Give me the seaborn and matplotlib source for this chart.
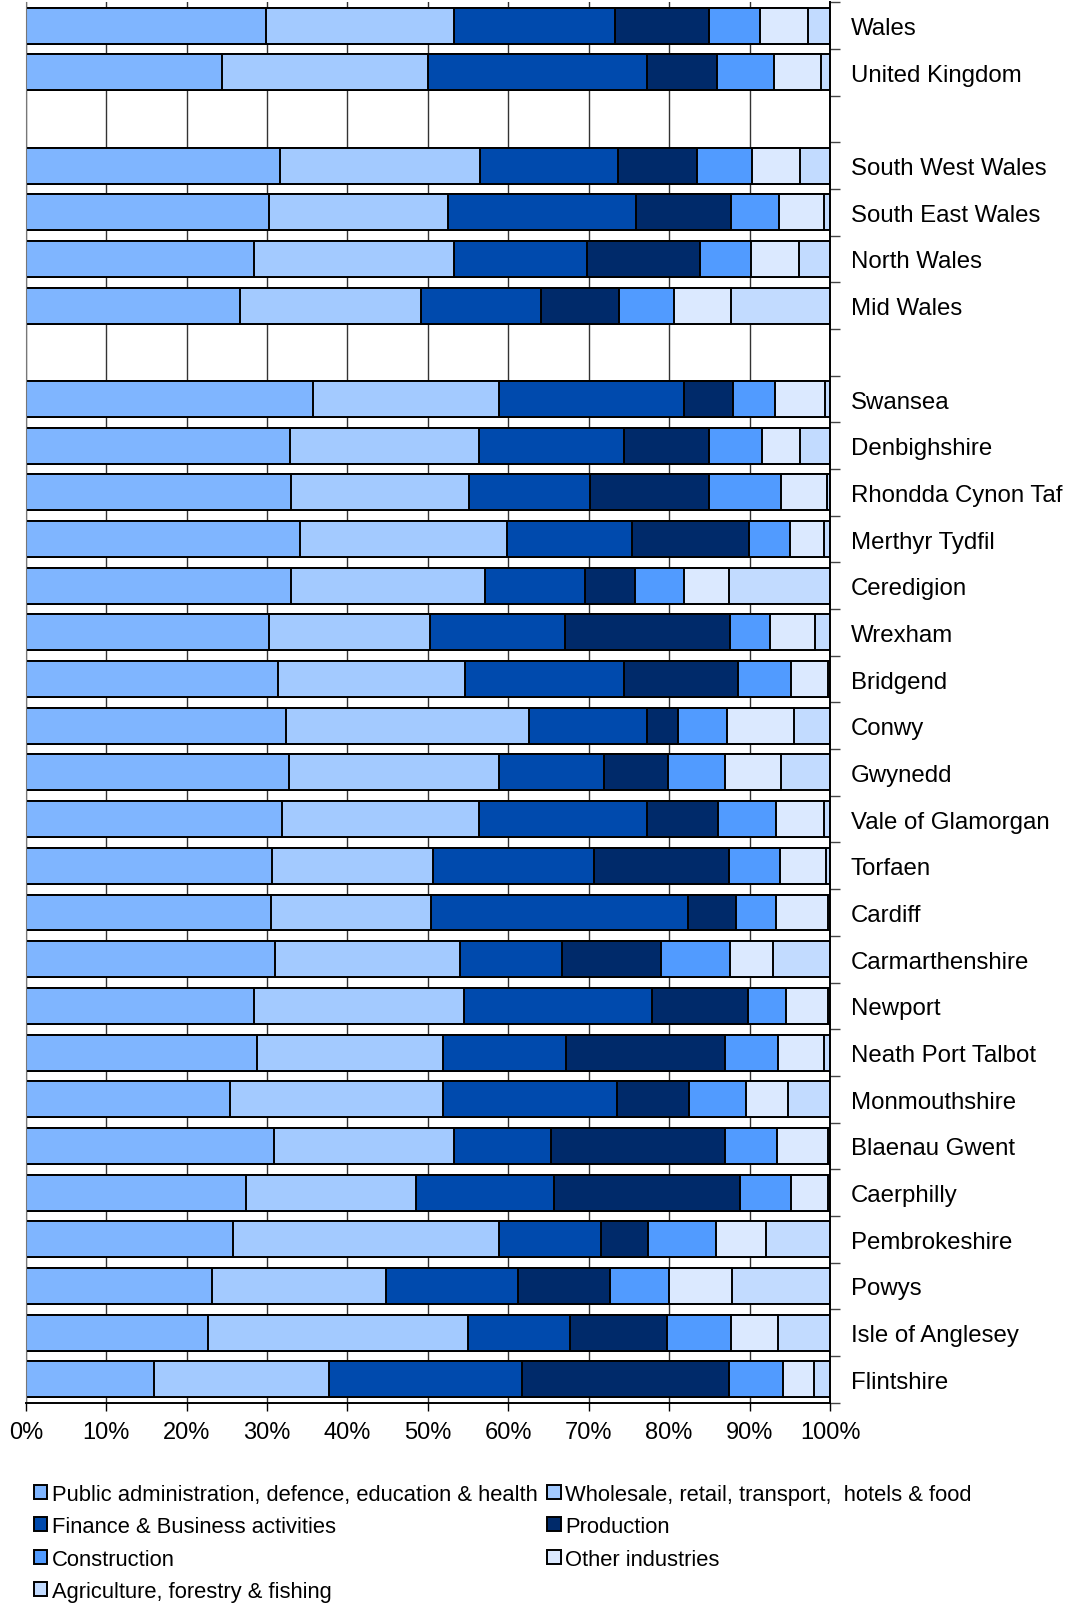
import numpy as np
import pandas as pd
import matplotlib
matplotlib.use("Agg")
import matplotlib.pyplot as plt
from matplotlib.patches import Patch
import seaborn as sns

# rows top to bottom; blank strings are the gaps between groups
areas = ["Wales", "United Kingdom", " ",
         "South West Wales", "South East Wales", "North Wales", "Mid Wales", "  ",
         "Swansea", "Denbighshire", "Rhondda Cynon Taf", "Merthyr Tydfil",
         "Ceredigion", "Wrexham", "Bridgend", "Conwy", "Gwynedd",
         "Vale of Glamorgan", "Torfaen", "Cardiff", "Carmarthenshire", "Newport",
         "Neath Port Talbot", "Monmouthshire", "Blaenau Gwent", "Caerphilly",
         "Pembrokeshire", "Powys", "Isle of Anglesey", "Flintshire"]

# share of GVA by sector (%), None for the blank rows
public_admin = [29.9, 24.4, None, 31.6, 30.3, 28.4, 26.6, None,
                35.7, 32.9, 33.0, 34.1, 33.0, 30.3, 31.4, 32.3, 32.7,
                31.9, 30.6, 30.5, 31.0, 28.4, 28.8, 25.4, 30.9, 27.4,
                25.8, 23.1, 22.6, 16.0]
wholesale = [23.4, 25.6, None, 24.9, 22.2, 24.8, 22.5, None,
             23.1, 23.5, 22.1, 25.7, 24.1, 20.0, 23.2, 30.3, 26.2,
             24.4, 20.1, 19.9, 23.1, 26.1, 23.1, 26.5, 22.4, 21.1,
             33.0, 21.7, 32.4, 21.7]
finance = [20.0, 27.2, None, 17.1, 23.4, 16.6, 15.0, None,
           23.0, 18.0, 15.1, 15.6, 12.4, 16.7, 19.8, 14.7, 13.0,
           20.9, 20.0, 31.9, 12.7, 23.4, 15.3, 21.6, 12.0, 17.2,
           12.7, 16.4, 12.7, 24.0]
production = [11.7, 8.7, None, 9.9, 11.8, 14.0, 9.6, None,
              6.1, 10.6, 14.8, 14.5, 6.2, 20.6, 14.2, 3.8, 7.9,
              8.9, 16.8, 6.0, 12.3, 12.0, 19.8, 9.0, 21.7, 23.1,
              5.9, 11.5, 12.0, 25.7]
construction = [6.4, 7.1, None, 6.8, 6.0, 6.4, 6.9, None,
                5.3, 6.6, 8.9, 5.1, 6.1, 4.9, 6.5, 6.1, 7.2,
                7.2, 6.4, 5.0, 8.5, 4.7, 6.5, 7.1, 6.4, 6.4,
                8.4, 7.3, 8.0, 6.8]
other = [5.9, 5.9, None, 6.0, 5.6, 6.0, 7.1, None,
         6.2, 4.7, 5.7, 4.3, 5.7, 5.6, 4.6, 8.3, 6.9,
         6.0, 5.7, 6.4, 5.4, 5.3, 5.8, 5.2, 6.3, 4.5,
         6.2, 7.8, 5.8, 3.8]
agriculture = [2.8, 1.1, None, 3.7, 0.7, 3.8, 12.3, None,
               0.6, 3.7, 0.4, 0.7, 12.5, 1.9, 0.3, 4.5, 6.1,
               0.7, 0.5, 0.3, 7.1, 0.2, 0.7, 5.2, 0.3, 0.3,
               8.0, 12.2, 6.5, 2.0]

sectors = ["Public administration, defence, education & health",
           "Wholesale, retail, transport,  hotels & food",
           "Finance & Business activities",
           "Production",
           "Construction",
           "Other industries",
           "Agriculture, forestry & fishing"]
colors = ["#7fb5ff", "#a3caff", "#004aad", "#002a6a", "#519bff", "#dbe9ff", "#c2dbff"]

df = pd.DataFrame({"area": areas, sectors[0]: public_admin, sectors[1]: wholesale,
                   sectors[2]: finance, sectors[3]: production, sectors[4]: construction,
                   sectors[5]: other, sectors[6]: agriculture}).set_index("area")
df = df.dropna()
df = df.div(df.sum(axis=1), axis=0) * 100
cum = df.cumsum(axis=1).reset_index()

plt.rcParams["font.family"] = ["Liberation Sans", "DejaVu Sans"]

fig = plt.figure(figsize=(10.71, 16.06), dpi=100)
ax = fig.add_axes([0.0241, 0.126, 0.7509, 0.872])

ax.set_axisbelow(True)
ax.grid(axis="x", color="#333333", linewidth=1.0)

# stacked bars: draw cumulative totals from the largest down
for sector, color in reversed(list(zip(sectors, colors))):
    sns.barplot(data=cum, x=sector, y="area", order=areas, color=color,
                width=0.77, edgecolor="black", linewidth=1.4, saturation=1,
                ax=ax)

ax.set_xlim(0, 100)
ax.set_ylim(len(areas) - 0.5, -0.5)
ax.set_xticks(np.arange(0, 101, 10))
ax.set_xticklabels([f"{v}%" for v in range(0, 101, 10)], fontsize=17)
ax.tick_params(axis="x", direction="out", length=6, width=1, color="black", pad=7)
ax.set_xlabel("")
ax.set_ylabel("")

ax.yaxis.tick_right()
ax.set_yticks(range(len(areas)))
ax.set_yticklabels([a.strip() for a in areas], fontsize=17.3)
ax.tick_params(axis="y", which="major", length=0, pad=15)
ax.set_yticks(np.arange(-0.5, len(areas), 1), minor=True)
ax.tick_params(axis="y", which="minor", right=True, left=False, direction="out",
               length=7, width=1, color="#444444")

ax.spines["top"].set_visible(False)
ax.spines["left"].set_color("#777777")
ax.spines["right"].set_color("black")
ax.spines["right"].set_linewidth(1.4)
ax.spines["bottom"].set_color("black")
ax.spines["bottom"].set_linewidth(1.4)

handles = [Patch(facecolor=c, edgecolor="black", linewidth=1.4) for c in colors]
# legend reads across rows, so reorder for two columns
order = [0, 2, 4, 6, 1, 3, 5]
fig.legend([handles[i] for i in order], [sectors[i] for i in order],
           loc="upper left", bbox_to_anchor=(0.032, 0.0755), ncol=2,
           frameon=False, fontsize=15.8, handlelength=0.6, handleheight=0.6,
           handletextpad=0.2, columnspacing=0.45, labelspacing=0.52,
           borderpad=0, borderaxespad=0)

fig.savefig("out.png", dpi=100)
